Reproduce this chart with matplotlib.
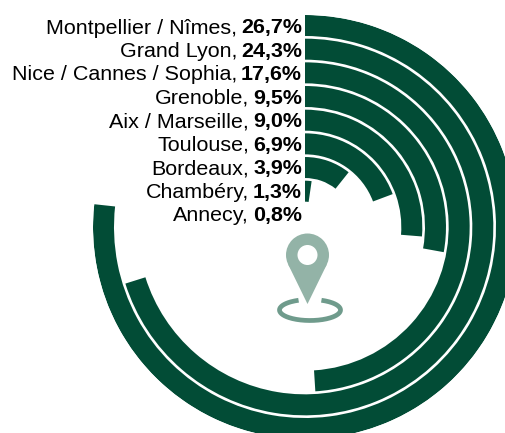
import numpy as np
import matplotlib
matplotlib.use("Agg")
import matplotlib.pyplot as plt
from matplotlib.patches import Circle, Polygon

plt.rcParams['font.family'] = ['Liberation Sans', 'DejaVu Sans']

# DATA
cities = ["Montpellier / Nîmes", "Grand Lyon", "Nice / Cannes / Sophia", "Grenoble",
          "Aix / Marseille", "Toulouse", "Bordeaux", "Chambéry", "Annecy"]
labels = ["26,7%", "24,3%", "17,6%", "9,5%", "9,0%", "6,9%", "3,9%", "1,3%", "0,8%"]
# arc lengths as drawn in the picture, they differ a little from the printed shares
arc_pct = [26.85, 24.55, 17.15, 9.75, 9.2, 6.75, 3.75, 0.8, 0.0]

GREEN = '#024c36'
W, H = 505, 433
CX, CY, R = 305, 227, 212
PITCH = 23.67
RING = 21.0
PCT_FULL_TURN = 35.0
FONT = 15.45

fig = plt.figure(figsize=(W / 100, H / 100), dpi=100)

# RINGS
ax = fig.add_axes([(CX - R) / W, (H - CY - R) / H, 2 * R / W, 2 * R / H], projection='polar')
ax.set_theta_zero_location('N')
ax.set_theta_direction(-1)
ax.set_ylim(0, R)
ax.axis('off')

for i, pct in enumerate(arc_pct):
    if pct <= 0:
        continue
    width = pct / PCT_FULL_TURN * 2 * np.pi
    outer = R - i * PITCH
    ax.bar(0, RING, width=width, bottom=outer - RING, align='edge', color=GREEN, linewidth=0)

# OVERLAY IN PIXELS, LABELS AND ICON
over = fig.add_axes([0, 0, 1, 1])
over.set_xlim(0, W)
over.set_ylim(H, 0)
over.axis('off')
over.patch.set_alpha(0)

renderer = fig.canvas.get_renderer()
for i, (city, lab) in enumerate(zip(cities, labels)):
    y = 33.5 + i * 23.45
    bold = over.text(302, y, lab, ha='right', va='baseline', fontsize=FONT, fontweight='bold', color='black')
    left = bold.get_window_extent(renderer).x0
    xpix = over.transData.inverted().transform((left, 0))[0]
    over.text(xpix - 4, y, city + ",", ha='right', va='baseline', fontsize=FONT, color='black')

# pin
hx, hy, hr, tip = 307.5, 255, 21.5, 49
ang = np.arccos(hr / tip)
base = np.pi / 2
p1 = (hx + hr * np.cos(base - ang), hy + hr * np.sin(base - ang))
p2 = (hx + hr * np.cos(base + ang), hy + hr * np.sin(base + ang))
PIN = '#93b3a7'
over.add_patch(Circle((hx, hy), hr, color=PIN, lw=0))
over.add_patch(Polygon([p1, (hx, hy + tip), p2], color=PIN, lw=0))
over.add_patch(Circle((hx, hy), 10, color='white', lw=0))

# ground ring with a gap under the pin
t = np.radians(np.linspace(-68, 248, 150))
over.plot(310 + 30.5 * np.cos(t), 310 + 10.5 * np.sin(t), color='#6f9b8c', lw=3.4, solid_capstyle='butt')

fig.savefig("out.png", dpi=100, facecolor='white')
